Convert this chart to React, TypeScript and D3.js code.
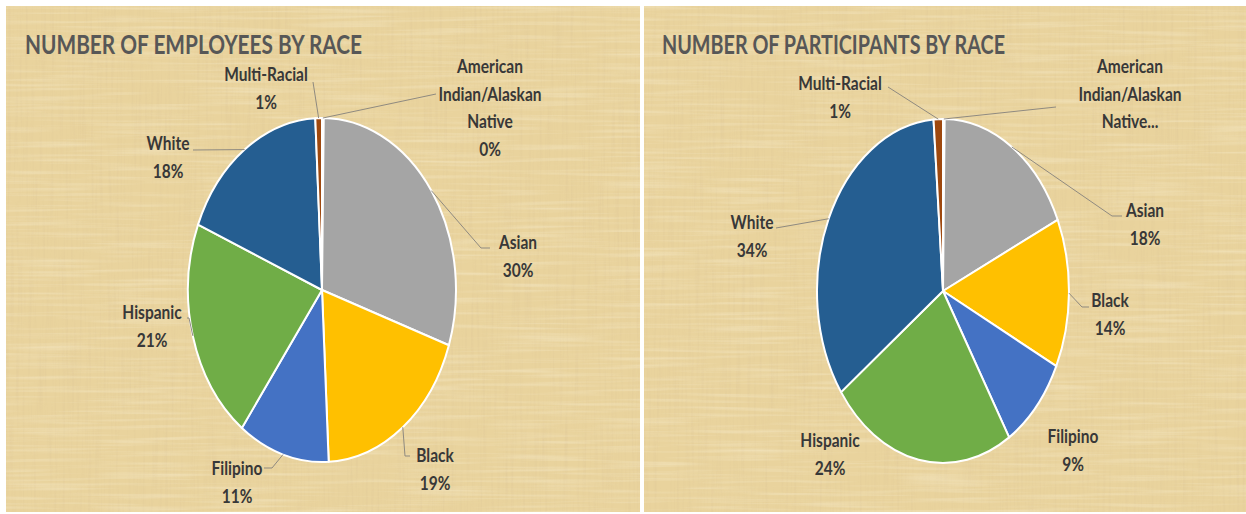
import React from "react";
import * as d3 from "d3";

// ---- data ----
const categories = [
  "American Indian/Alaskan Native",
  "Asian",
  "Black",
  "Filipino",
  "Hispanic",
  "White",
  "Multi-Racial",
];
const categoryLabelLines = [
  ["American", "Indian/Alaskan", "Native"],
  ["Asian"],
  ["Black"],
  ["Filipino"],
  ["Hispanic"],
  ["White"],
  ["Multi-Racial"],
];
const employeeShares = [0.2, 30, 19, 11, 21, 18, 0.8];
const participantShares = [0.2, 18, 14, 9, 23.8, 33.8, 1.2];
const sliceColors = ["#ED7D31", "#A5A5A5", "#FFC000", "#4472C4", "#70AD47", "#255E91", "#9E480E"];
const chartTitles = ["NUMBER OF EMPLOYEES BY RACE", "NUMBER OF PARTICIPANTS BY RACE"];

// ---- layout ----
type LabelLayout = { x: number; y: number; from?: [number, number]; elbow?: [number, number]; truncate?: boolean };
type Panel = {
  x: number; w: number; cx: number; cy: number; rx: number; ry: number;
  titleX: number; titleW: number; title: string; values: number[]; labels: LabelLayout[];
};

const panels: Panel[] = [
  {
    x: 6, w: 634, cx: 322, cy: 290, rx: 134, ry: 172, titleX: 25, titleW: 337,
    title: chartTitles[0], values: employeeShares,
    labels: [
      { x: 490, y: 66, from: [436, 94] },
      { x: 518, y: 242, from: [490, 248], elbow: [481, 248] },
      { x: 435, y: 455, from: [410, 456], elbow: [405, 456] },
      { x: 237, y: 468, from: [264, 468], elbow: [272, 468] },
      { x: 152, y: 312, from: [187, 318], elbow: [189, 318] },
      { x: 168, y: 143, from: [193, 150] },
      { x: 266, y: 74, from: [313, 82] },
    ],
  },
  {
    x: 644, w: 602, cx: 943, cy: 291, rx: 126, ry: 172, titleX: 662, titleW: 343,
    title: chartTitles[1], values: participantShares,
    labels: [
      { x: 1130, y: 66, from: [1056, 107], truncate: true },
      { x: 1145, y: 210, from: [1122, 216], elbow: [1112, 216] },
      { x: 1110, y: 300, from: [1089, 307], elbow: [1082, 307] },
      { x: 1073, y: 436 },
      { x: 830, y: 440 },
      { x: 752, y: 222, from: [776, 228] },
      { x: 840, y: 83, from: [888, 87] },
    ],
  },
];

const LINE_H = 27.5;
const TEXT_COLOR = "#383838";

function PieChart({ p }: { p: Panel }) {
  const total = d3.sum(p.values);
  const arcs = d3.pie<number>().sort(null).value((d) => d)(p.values);
  const arcGen = d3.arc<d3.PieArcDatum<number>>().innerRadius(0).outerRadius(1);
  const edge = (a: number): [number, number] => [p.cx + p.rx * Math.sin(a), p.cy - p.ry * Math.cos(a)];
  const fmt = (v: number) => `${Math.round((v / total) * 100)}%`;

  return (
    <g>
      <rect x={p.x} y={6} width={p.w} height={506} fill="#e9d39d" />
      <rect x={p.x} y={6} width={p.w} height={506} filter="url(#parchV)" opacity={0.45} />
      <rect x={p.x} y={6} width={p.w} height={506} filter="url(#parchH)" opacity={0.4} />
      <text
        transform={`translate(${p.titleX},54) scale(1,1.3)`}
        fontFamily="Lato, 'Open Sans', sans-serif"
        fontWeight={700}
        fontSize={21}
        fill="#575757"
        textLength={p.titleW}
        lengthAdjust="spacingAndGlyphs"
      >
        {p.title}
      </text>
      <g transform={`translate(${p.cx},${p.cy}) scale(${p.rx},${p.ry})`}>
        {arcs.map((a, i) => (
          <path
            key={i}
            d={arcGen(a) || ""}
            fill={sliceColors[i]}
            stroke="#ffffff"
            strokeWidth={2}
            vectorEffect="non-scaling-stroke"
            strokeLinejoin="round"
          />
        ))}
      </g>
      {arcs.map((a, i) => {
        const l = p.labels[i];
        if (!l.from) return null;
        const mid = (a.startAngle + a.endAngle) / 2;
        const e = edge(mid);
        const pts: [number, number][] = [l.from];
        if (l.elbow) pts.push(l.elbow);
        pts.push(e);
        return (
          <path
            key={"l" + i}
            d={d3.line()(pts) || ""}
            fill="none"
            stroke="#8f8a80"
            strokeWidth={1}
          />
        );
      })}
      {arcs.map((a, i) => {
        const l = p.labels[i];
        const lines = [...categoryLabelLines[i]];
        if (l.truncate) {
          lines[lines.length - 1] = lines[lines.length - 1] + "...";
        } else {
          lines.push(fmt(p.values[i]));
        }
        return (
          <g key={"t" + i}>
            {lines.map((s, j) => (
              <text
                key={j}
                transform={`translate(${l.x},${l.y + j * LINE_H}) scale(1,1.25)`}
                textAnchor="middle"
                dominantBaseline="central"
                fontFamily="Lato, 'Open Sans', sans-serif"
                fontWeight={700}
                fontSize={15.5}
                fill={TEXT_COLOR}
              >
                {s}
              </text>
            ))}
          </g>
        );
      })}
    </g>
  );
}

export default function App() {
  return (
    <svg
      width={1246}
      height={514}
      style={{ position: "absolute", left: 0, top: 0, background: "#ffffff" }}
    >
      <defs>
        <filter id="parchV" x="0" y="0" width="100%" height="100%">
          <feTurbulence type="fractalNoise" baseFrequency="0.35 0.012" numOctaves={3} seed={4} result="n" />
          <feColorMatrix
            in="n"
            type="matrix"
            values="0 0 0 0 0.7  0 0 0 0 0.55  0 0 0 0 0.3  1.6 0 0 0 -0.75"
          />
        </filter>
        <filter id="parchH" x="0" y="0" width="100%" height="100%">
          <feTurbulence type="fractalNoise" baseFrequency="0.01 0.3" numOctaves={2} seed={9} result="n" />
          <feColorMatrix
            in="n"
            type="matrix"
            values="0 0 0 0 0.98  0 0 0 0 0.93  0 0 0 0 0.76  1.8 0 0 0 -0.8"
          />
        </filter>
      </defs>
      {panels.map((p, i) => (
        <PieChart key={i} p={p} />
      ))}
    </svg>
  );
}
